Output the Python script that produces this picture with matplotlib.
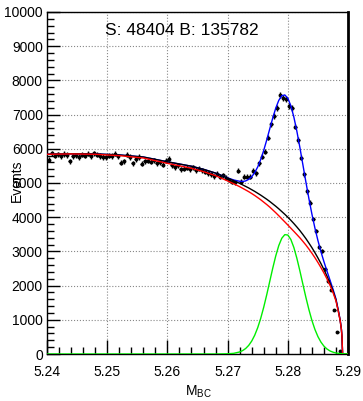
# M_BC fit plot: data histogram with total / background / signal curves
import matplotlib
matplotlib.use('Agg')
import matplotlib.pyplot as plt
from matplotlib.ticker import MultipleLocator
import numpy as np

plt.rcParams['font.family'] = ['Liberation Sans', 'DejaVu Sans']
plt.rcParams['mathtext.default'] = 'regular'

# histogram, bins of 0.0005 starting at 5.24
bin_lo = 5.24
bin_w = 0.0005
counts = [5680, 5870, 5800, 5840, 5780, 5850, 5820, 5640, 5790, 5810,
          5760, 5830, 5800, 5860, 5780, 5870, 5830, 5790, 5760, 5750,
          5800, 5790, 5860, 5780, 5590, 5640, 5830, 5760, 5580, 5700,
          5760, 5570, 5640, 5650, 5620, 5660, 5580, 5600, 5530, 5650,
          5700, 5520, 5460, 5520, 5400, 5420, 5450, 5400, 5460, 5380,
          5420, 5370, 5330, 5290, 5260, 5200, 5270, 5180, 5230, 5156,
          5088, 5038, 5020, 5351, 5038, 5184, 5184, 5184, 5351, 5283,
          5575, 5769, 5915, 6325, 6716, 6968, 7202, 7573, 7494, 7456,
          7260, 7202, 6646, 6257, 5740, 5254, 4760, 4424, 3938, 3596,
          3137, 3012, 2477, 2135, 1871, 1287, 652, 88, 0, 0]

fit_m = [5.240, 5.244, 5.248, 5.252, 5.256, 5.260, 5.264, 5.266, 5.268, 5.270,
         5.271, 5.272, 5.2725, 5.273, 5.2735, 5.274, 5.2745, 5.275, 5.2755, 5.276,
         5.2765, 5.277, 5.2775, 5.278, 5.2785, 5.279, 5.2795, 5.280, 5.2805, 5.281,
         5.2815, 5.282, 5.2825, 5.283, 5.2835, 5.284, 5.2845, 5.285, 5.2855, 5.286,
         5.2865, 5.287, 5.2875, 5.288, 5.2884, 5.2887, 5.2889, 5.289, 5.2891, 5.290]
fit_total = [5840, 5855, 5850, 5820, 5760, 5620, 5490, 5400, 5290, 5151,
             5089, 5050, 5045, 5061, 5106, 5182, 5303, 5469, 5688, 5954,
             6259, 6583, 6901, 7190, 7416, 7550, 7575, 7479, 7260, 6932,
             6517, 6045, 5539, 5034, 4546, 4094, 3685, 3320, 2994, 2700,
             2427, 2165, 1899, 1611, 1269, 994, 731, 509, 8, 2]
fit_bkg = [5840, 5855, 5850, 5820, 5760, 5620, 5490, 5400, 5290, 5145,
           5070, 4990, 4945, 4900, 4855, 4805, 4755, 4700, 4645, 4585,
           4525, 4460, 4390, 4320, 4245, 4165, 4085, 4000, 3910, 3815,
           3715, 3610, 3495, 3375, 3245, 3110, 2965, 2810, 2645, 2470,
           2280, 2075, 1845, 1580, 1250, 980, 720, 500, 0, 0]
fit_bkg2 = [5840, 5850, 5840, 5800, 5730, 5575, 5430, 5332, 5215, 5060,
            4980, 4893, 4845, 4796, 4747, 4692, 4635, 4573, 4510, 4440,
            4370, 4295, 4213, 4130, 4043, 3952, 3863, 3772, 3680, 3587,
            3493, 3398, 3295, 3187, 3070, 2948, 2817, 2677, 2528, 2370,
            2198, 2012, 1800, 1552, 1235, 972, 717, 499, 0, 0]
fit_sig = [0, 0, 0, 0, 0, 0, 0, 0, 0, 6,
           19, 60, 100, 161, 251, 377, 548, 769, 1043, 1369,
           1734, 2123, 2511, 2870, 3171, 3385, 3490, 3479, 3350, 3117,
           2802, 2435, 2044, 1659, 1301, 984, 720, 510, 349, 230,
           147, 90, 54, 31, 19, 14, 11, 9, 8, 2]

label_text = 'S: 48404 B: 135782'


def main():
    counts_a = np.array(counts, dtype=float)
    centers = bin_lo + bin_w * (np.arange(len(counts_a)) + 0.5)
    keep = counts_a > 0

    fig = plt.figure(figsize=(3.63, 4.01), dpi=100)
    ax = fig.add_axes([0.1295, 0.1172, 0.8292, 0.8529])

    ax.errorbar(centers[keep], counts_a[keep], yerr=np.sqrt(counts_a[keep]),
                xerr=bin_w / 2, fmt='o', ms=2.8, mew=0, color='black',
                elinewidth=1.0, capsize=0, zorder=3)

    ax.plot(fit_m, fit_total, color='#0000ff', lw=1.0, zorder=4)
    ax.plot(fit_m, fit_bkg, color='black', lw=1.0, zorder=4)
    ax.plot(fit_m, fit_bkg2, color='#ff0000', lw=1.0, zorder=5)
    ax.plot(fit_m, fit_sig, color='#00ee00', lw=1.0, zorder=5)

    ax.set_xlim(5.24, 5.29)
    ax.set_ylim(0, 10000)
    xt = [5.24, 5.25, 5.26, 5.27, 5.28, 5.29]
    ax.set_xticks(xt)
    ax.set_xticklabels(['%.2f' % v for v in xt])
    yt = list(range(0, 10001, 1000))
    ax.set_yticks(yt)
    ax.set_yticklabels([str(v) for v in yt])
    ax.xaxis.set_minor_locator(MultipleLocator(0.002))
    ax.yaxis.set_minor_locator(MultipleLocator(200))

    ax.tick_params(which='both', direction='in', top=False, right=False,
                   labelsize=10, width=1.0, colors='black')
    ax.tick_params(axis='x', which='major', length=10, pad=8)
    ax.tick_params(axis='x', which='minor', length=5)
    ax.tick_params(axis='y', which='major', length=9, pad=3)
    ax.tick_params(axis='y', which='minor', length=5)

    ax.grid(which='major', ls=':', color='#888888', lw=0.8)
    ax.set_axisbelow(True)
    for s in ax.spines.values():
        s.set_linewidth(1.0)
    ax.spines['right'].set_linewidth(2.0)

    ax.text(0.447, 0.947, label_text, transform=ax.transAxes,
            ha='center', va='center', fontsize=12.5)

    fig.text(17 / 363, 1 - 181 / 401, 'Events', rotation=90,
             ha='center', va='center', fontsize=10)
    fig.text(198 / 363, 1 - 392 / 401, r'M$_{BC}$',
             ha='center', va='center', fontsize=10)

    fig.savefig('out.png', dpi=100)


if __name__ == '__main__':
    main()
